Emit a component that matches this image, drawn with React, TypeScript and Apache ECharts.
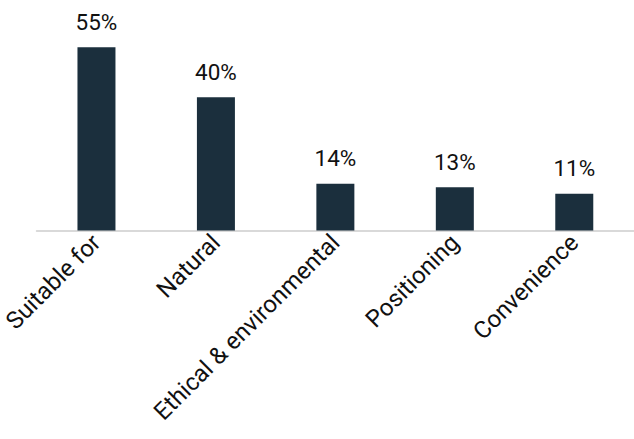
import React, { useEffect, useRef } from "react";
import * as echarts from "echarts";

const categories = ["Suitable for", "Natural", "Ethical & environmental", "Positioning", "Convenience"];
const values = [55, 40, 14, 13, 11];

export default function App() {
  const ref = useRef<HTMLDivElement>(null);
  useEffect(() => {
    if (!ref.current) return;
    const chart = echarts.init(ref.current, null, { renderer: "svg" });
    chart.setOption({
      animation: false,
      backgroundColor: "#ffffff",
      grid: { left: 34, top: 30.5, width: 604, height: 200, containLabel: false },
      xAxis: {
        type: "category",
        data: categories,
        axisLine: { show: true, lineStyle: { color: "#d9d9d9", width: 2 } },
        axisTick: { show: false },
        axisLabel: {
          rotate: 45,
          interval: 0,
          margin: 8,
          fontFamily: "Roboto",
          fontSize: 24,
          color: "#111111",
        },
      },
      yAxis: {
        type: "value",
        min: 0,
        max: 60,
        show: false,
        splitLine: { show: false },
      },
      series: [
        {
          type: "bar",
          data: values,
          barWidth: 38,
          itemStyle: { color: "#1b2f3d" },
          label: {
            show: true,
            position: "top",
            distance: 14,
            formatter: "{c}%",
            fontFamily: "Roboto",
            fontSize: 22.5,
            color: "#111111",
          },
        },
      ],
    });
    return () => chart.dispose();
  }, []);
  return (
    <div
      ref={ref}
      style={{ position: "fixed", left: 0, top: 0, width: 634, height: 439, background: "#fff" }}
    />
  );
}
